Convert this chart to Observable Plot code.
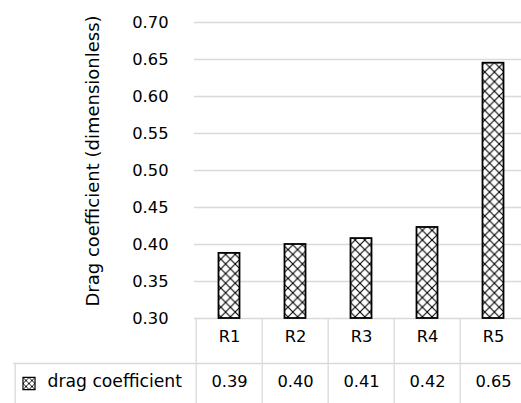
<!DOCTYPE html>
<html>
<head>
<meta charset="utf-8">
<script src="https://cdn.jsdelivr.net/npm/d3@7"></script>
<script src="https://cdn.jsdelivr.net/npm/@observablehq/plot@0.6"></script>
<style>
  html, body { margin: 0; padding: 0; background: #fff; }
  #chart svg { display: block; }
</style>
</head>
<body>
<div id="chart"></div>
<script>
// ---- data ----
const categories = ["R1", "R2", "R3", "R4", "R5"];
const dragCoefficient = [0.388, 0.400, 0.408, 0.423, 0.645];
const tableLabels = ["0.39", "0.40", "0.41", "0.42", "0.65"];
const yTicks = [0.30, 0.35, 0.40, 0.45, 0.50, 0.55, 0.60, 0.65, 0.70];
const seriesName = "drag coefficient";
const yTitle = "Drag coefficient (dimensionless)";

const data = categories.map((c, i) => ({cat: c, value: dragCoefficient[i], label: tableLabels[i]}));
const yMin = yTicks[0];
const yMax = yTicks[yTicks.length - 1];

const W = 521, H = 403;
const mTop = 22, mBottom = 85, mLeft = 194;
const frameH = H - mTop - mBottom;
const font = "DejaVu Sans";
const fs = 16.3;
const fsWide = 17.2;
const fsTitle = 18;
const grid = "#d9d9d9";
const colW = (527.3 - mLeft) / categories.length;

const plot = Plot.plot({
  width: W,
  height: H,
  marginTop: mTop,
  marginBottom: mBottom,
  marginLeft: mLeft,
  marginRight: 0,
  style: {fontFamily: font, fontSize: fs + "px", color: "#000", background: "#fff", overflow: "visible"},
  x: {type: "band", domain: categories, range: [mLeft, 527.3], padding: 0, axis: null},
  y: {domain: [yMin, yMax], ticks: yTicks, axis: null},
  marks: [
    Plot.gridY(yTicks, {stroke: grid, strokeOpacity: 1, strokeWidth: 1.3}),
    Plot.axisY(yTicks, {tickSize: 0, tickPadding: 26, tickFormat: d3.format(".2f"), label: null, fontSize: fs, fill: "#000"}),
    Plot.text([yTitle], {frameAnchor: "left", rotate: -90, textAnchor: "middle", dx: 93 - mLeft, dy: -9.5, fontSize: fsTitle, fill: "#000"}),
    // table lines
    Plot.ruleX(categories, {x: d => d, dx: -colW / 2, insetTop: frameH, insetBottom: -mBottom, stroke: grid, strokeWidth: 1.3}),
    Plot.ruleY([yMin], {dy: 45, insetLeft: -(mLeft - 13), stroke: grid, strokeWidth: 1.3}),
    Plot.ruleX([categories[0]], {x: d => d, dx: 13 - mLeft - colW / 2, insetTop: frameH + 45, insetBottom: -mBottom, stroke: grid, strokeWidth: 1.3}),
    // bars
    Plot.barY(data, {x: "cat", y1: yMin, y2: "value", fill: "url(#hatch)", stroke: "#000", strokeWidth: 1.8, insetLeft: 22.5, insetRight: 22.5}),
    // table text
    Plot.text(data, {x: "cat", text: "cat", frameAnchor: "bottom", dy: 23, fontSize: fs, fill: "#000"}),
    Plot.text(data, {x: "cat", text: "label", frameAnchor: "bottom", dy: 68, fontSize: fs, fill: "#000"}),
    Plot.text([seriesName], {frameAnchor: "bottom-left", textAnchor: "start", dx: 47 - mLeft, dy: 68, fontSize: fsWide, fill: "#000"}),
    Plot.dot([seriesName], {frameAnchor: "bottom-left", symbol: "square", r: 6.8, dx: 28.5 - mLeft, dy: 65, fill: "url(#hatchSmall)", stroke: "#000", strokeWidth: 1.2})
  ]
});

// hatch patterns
const svg = d3.select(plot);
const defs = svg.insert("defs", ":first-child");
function addPattern(id, s, sw) {
  const p = defs.append("pattern").attr("id", id).attr("patternUnits", "userSpaceOnUse")
    .attr("width", s).attr("height", s);
  p.append("rect").attr("width", s).attr("height", s).attr("fill", "#fff");
  p.append("path").attr("d", `M0,0L${s},${s}M${s},0L0,${s}`).attr("stroke", "#000").attr("stroke-width", sw).attr("fill", "none");
}
addPattern("hatch", 9.6, 1.1);
addPattern("hatchSmall", 6, 0.9);

document.getElementById("chart").appendChild(plot);
</script>
</body>
</html>
